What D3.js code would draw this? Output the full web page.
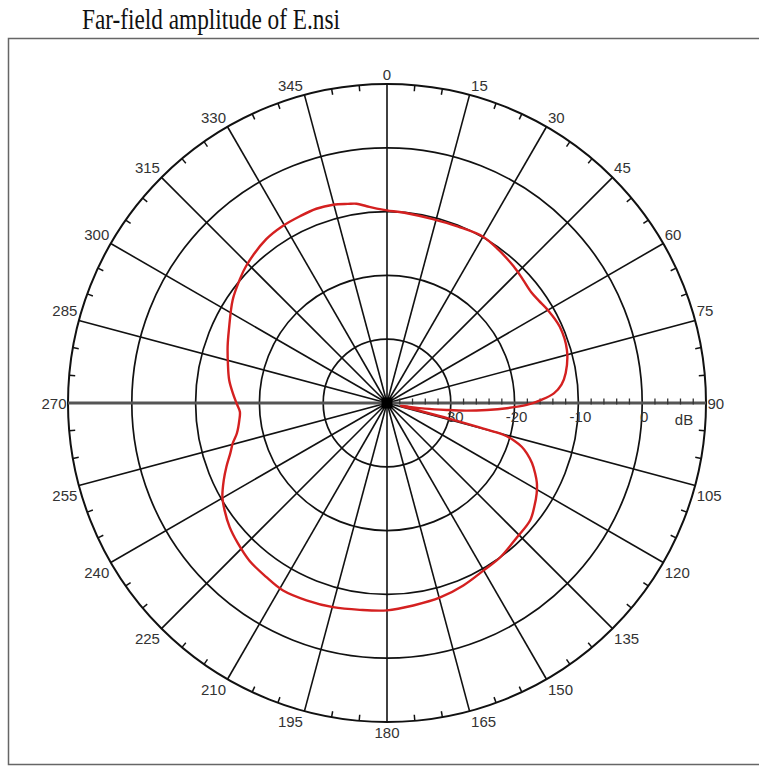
<!DOCTYPE html>
<html>
<head>
<meta charset="utf-8">
<script src="https://cdn.jsdelivr.net/npm/d3@7"></script>
<style>
  body { margin: 0; background: #fff; }
</style>
</head>
<body>
<div id="chart"></div>
<script>
// Far-field pattern, angle in degrees (clockwise from top), gain in dB
const angles = [0, 6, 14, 22, 30, 36, 42.8, 47.5, 52.5, 56, 59.8, 66.2, 73.6, 80.5, 84, 86.7, 88.9, 90.8, 92.5, 94,
  95.5, 96.7, 98.5, 100, 101.5, 102.5, 103.5, 104.2, 104.8, 105.3, 106.5, 108, 109.8, 112.5, 115.4, 118, 121.1, 125,
  129.3, 136, 143.7, 150, 157.3, 164.7, 172.6, 180, 187.5, 194.8, 202.2, 209, 214.7, 221.1, 226.7,
  231.8, 236.6, 240.3, 244.7, 248.3, 252.2, 255.3, 258.6, 263.4, 266.6, 270, 273.6, 278.3, 284, 289.5,
  294.8, 303.8, 309.9, 314.2, 323.6, 329.5, 335, 340, 344.8, 348.9, 351.3, 354.1, 357];
const gainDb = [-9.8, -10.1, -10.3, -10.2, -9.9, -10.3, -10.8, -11.2, -11.5, -11.3, -10.9, -10.4, -10.6, -11.6, -12.5, -13.8, -15.9, -18.1, -21.2, -24.3,
  -27.5, -30.6, -34.0, -36.5, -37.8, -37.4, -35.0, -30.0, -25.0, -21.0, -19.2, -17.8, -16.7, -15.4, -14.3, -13.4, -12.6, -11.8,
  -11.0, -10.7, -10.0, -9.7, -9.0, -8.4, -8.0, -7.5, -7.3, -6.9, -6.6, -6.4, -6.8, -7.2, -7.9,
  -8.6, -9.5, -10.3, -11.7, -12.9, -14.2, -15.0, -16.0, -16.7, -16.9, -16.4, -15.8, -15.0, -14.3, -13.5,
  -12.7, -10.9, -9.9, -9.2, -8.1, -7.8, -7.7, -7.6, -7.8, -8.2, -8.4, -9.0, -9.5];

const dbRings = [-30, -20, -10, 0, 10];
const dbLabels = [-30, -20, -10, 0];
const spokeAngles = d3.range(0, 360, 15);
const minorAngles = d3.range(0, 360, 5).filter(a => a % 15 !== 0);
const dbTicks = d3.range(-38, 10, 2).filter(v => v % 10 !== 0);

const width = 759, height = 766;
const cx = 387, cy = 403, R = 319;

const svg = d3.select("#chart").append("svg").attr("width", width).attr("height", height);

// title
svg.append("text")
    .attr("x", 82).attr("y", 29)
    .attr("font-family", "'Liberation Serif', 'Times New Roman', serif")
    .attr("font-size", 30)
    .attr("textLength", 258).attr("lengthAdjust", "spacingAndGlyphs")
    .attr("fill", "#111")
    .text("Far-field amplitude of E.nsi");

// frame
svg.append("rect")
    .attr("x", 8.5).attr("y", 38.5).attr("width", 770).attr("height", 726)
    .attr("fill", "none").attr("stroke", "#666").attr("stroke-width", 1.5);

const r = d3.scaleLinear().domain([-40, 10]).range([0, R]);
const g = svg.append("g").attr("transform", `translate(${cx},${cy})`);
const rad = a => a * Math.PI / 180;

// rings
g.selectAll(".ring")
    .data(dbRings)
    .enter()
    .append("circle")
    .attr("r", d => r(d))
    .attr("fill", "none")
    .attr("stroke", "#111")
    .attr("stroke-width", d => d === 10 ? 2 : 1.7);

// spokes
g.selectAll(".spoke")
    .data(spokeAngles.filter(a => a !== 90 && a !== 270))
    .enter()
    .append("line")
    .attr("x1", 0).attr("y1", 0)
    .attr("x2", d => R * Math.sin(rad(d)))
    .attr("y2", d => -R * Math.cos(rad(d)))
    .attr("stroke", "#111")
    .attr("stroke-width", 1.6);

// horizontal axis (90 - 270), drawn heavier
g.append("line")
    .attr("x1", -R).attr("x2", R).attr("y1", 0).attr("y2", 0)
    .attr("stroke", "#555").attr("stroke-width", 2.8);

// minor angle ticks on the outer ring, pointing inward
g.selectAll(".minor")
    .data(minorAngles)
    .enter()
    .append("line")
    .attr("x1", d => R * Math.sin(rad(d)))
    .attr("y1", d => -R * Math.cos(rad(d)))
    .attr("x2", d => (R - 6) * Math.sin(rad(d)))
    .attr("y2", d => -(R - 6) * Math.cos(rad(d)))
    .attr("stroke", "#111")
    .attr("stroke-width", 1.5);

// dB ticks along the 90 degree radius
g.selectAll(".dbtick")
    .data(dbTicks)
    .enter()
    .append("line")
    .attr("x1", d => r(d)).attr("x2", d => r(d))
    .attr("y1", -4.5).attr("y2", 1.5)
    .attr("stroke", "#333")
    .attr("stroke-width", 1.3);

// angle labels
g.selectAll(".alabel")
    .data(spokeAngles)
    .enter()
    .append("text")
    .attr("font-family", "'Liberation Sans', Arial, sans-serif")
    .attr("font-size", 15)
    .attr("fill", "#333")
    .attr("text-anchor", d => {
      const s = Math.sin(rad(d));
      return s > 0.01 ? "start" : s < -0.01 ? "end" : "middle";
    })
    .attr("x", d => {
      const s = Math.sin(rad(d));
      return R * s + (s > 0.01 ? 1.5 : s < -0.01 ? -1.5 : 0);
    })
    .attr("y", d => {
      const c = Math.cos(rad(d));
      const y = -R * c;
      return c > 0.01 ? y - 4 : c < -0.01 ? y + 15.5 : y + 5.5;
    })
    .text(d => d);

// dB labels
g.selectAll(".dblabel")
    .data(dbLabels)
    .enter()
    .append("text")
    .attr("font-family", "'Liberation Sans', Arial, sans-serif")
    .attr("font-size", 15)
    .attr("fill", "#333")
    .attr("text-anchor", "middle")
    .attr("x", d => r(d) + 2)
    .attr("y", 19)
    .text(d => d);

g.append("text")
    .attr("font-family", "'Liberation Sans', Arial, sans-serif")
    .attr("font-size", 15)
    .attr("fill", "#333")
    .attr("text-anchor", "middle")
    .attr("x", 297).attr("y", 22)
    .text("dB");

// centre marker
g.append("rect")
    .attr("x", -5.5).attr("y", -5.5).attr("width", 11).attr("height", 11)
    .attr("fill", "#000");

// pattern
const data = angles.map((a, i) => ({ a: a, v: gainDb[i] }));
const line = d3.lineRadial()
    .angle(d => rad(d.a))
    .radius(d => r(d.v))
    .curve(d3.curveCatmullRomClosed.alpha(0.5));

g.append("path")
    .datum(data)
    .attr("d", line)
    .attr("fill", "none")
    .attr("stroke", "#d42020")
    .attr("stroke-width", 2.4);
</script>
</body>
</html>
